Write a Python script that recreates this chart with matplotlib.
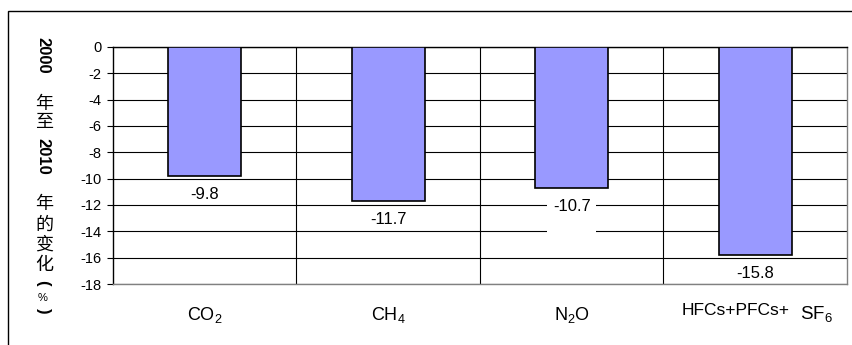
import matplotlib
matplotlib.use("Agg")
import matplotlib.pyplot as plt
from matplotlib.patches import Rectangle

# 各温室气体 2000-2010 年排放变化 (%)
gases = ["CO$_2$", "CH$_4$", "N$_2$O", "HFCs+PFCs+SF$_6$"]
change = [-9.8, -11.7, -10.7, -15.8]
yticks = list(range(0, -20, -2))

plt.rcParams['font.family'] = ['Liberation Sans', 'Noto Sans CJK SC']
plt.rcParams['mathtext.fontset'] = 'custom'
plt.rcParams['mathtext.rm'] = 'Liberation Sans'
plt.rcParams['mathtext.it'] = 'Liberation Sans:italic'
plt.rcParams['mathtext.bf'] = 'Liberation Sans:bold'

W, H = 853, 345
fig = plt.figure(figsize=(W / 100, H / 100), dpi=100)
ax = fig.add_axes([113 / W, 1 - 284 / H, (847 - 113) / W, (284 - 47) / H])

x = list(range(len(gases)))
ax.bar(x, change, width=0.4, color='#9999ff', edgecolor='black',
       linewidth=1.2, zorder=3)

ax.set_xlim(-0.5, 3.5)
ax.set_ylim(-18, 0)
ax.set_yticks(yticks)
ax.set_yticklabels([str(v) for v in yticks], fontsize=10.5)
ax.tick_params(axis='y', length=4.5, width=0.8, pad=4, color='black')

ax.set_xticks(x)
ax.set_xticklabels(gases[:3] + [''], fontsize=13)
ax.tick_params(axis='x', which='both', length=0, pad=15)
ax.set_xticks([0.5, 1.5, 2.5], minor=True)

ax.set_axisbelow(True)
ax.grid(axis='y', color='black', linewidth=0.8)
ax.grid(axis='x', which='minor', color='black', linewidth=0.8)
ax.xaxis.grid(False, which='major')

ax.spines['left'].set_color('black')
ax.spines['top'].set_color('black')
ax.spines['right'].set_color('#808080')
ax.spines['bottom'].set_color('#808080')
for s in ax.spines.values():
    s.set_linewidth(1)

# 数值标签
for i, v in enumerate(change):
    txt = f"{v:.1f}"
    bbox = None
    if i == 2:
        txt += "\n "
        bbox = dict(boxstyle='square,pad=0.35', facecolor='white', edgecolor='none')
    ax.annotate(txt, (i, v), xytext=(0, -8), textcoords='offset points',
                ha='center', va='top', fontsize=12, zorder=4, bbox=bbox)

# 最后一类的标签分两段写
xt = ax.get_xaxis_transform()
ax.annotate("HFCs+PFCs+", xy=(3, 0), xycoords=xt, xytext=(-74, -19),
            textcoords='offset pixels', ha='left', va='top', fontsize=12.5,
            annotation_clip=False)
ax.annotate("SF$_6$", xy=(3, 0), xycoords=xt, xytext=(61, -20),
            textcoords='offset pixels', ha='center', va='top', fontsize=13.5,
            annotation_clip=False)

# 竖排的纵轴标题
ylab_parts = [("2000", 55, 'num'), ("年", 104, 'cjk'), ("至", 122, 'cjk'),
              ("2010", 156, 'num'), ("年", 204, 'cjk'), ("的", 225, 'cjk'),
              ("变", 245, 'cjk'), ("化", 265, 'cjk'), ("(", 283, 'num'),
              ("%", 298, 'pct'), (")", 311, 'num')]
for s, yc, kind in ylab_parts:
    if kind == 'num':
        fig.text(43 / W, 1 - yc / H, s, rotation=-90, fontsize=12,
                 fontweight='bold', ha='center', va='center')
    elif kind == 'cjk':
        fig.text(44.5 / W, 1 - yc / H, s, fontsize=13, family='Noto Sans CJK SC',
                 ha='center', va='center')
    else:
        fig.text(43 / W, 1 - yc / H, s, fontsize=8, ha='center', va='center')

# 外框
fig.add_artist(Rectangle((8 / W, -0.1), 1.0, 1.1 - 11 / H, transform=fig.transFigure,
                         fill=False, edgecolor='black', linewidth=1))

fig.savefig('out.png', dpi=100)
